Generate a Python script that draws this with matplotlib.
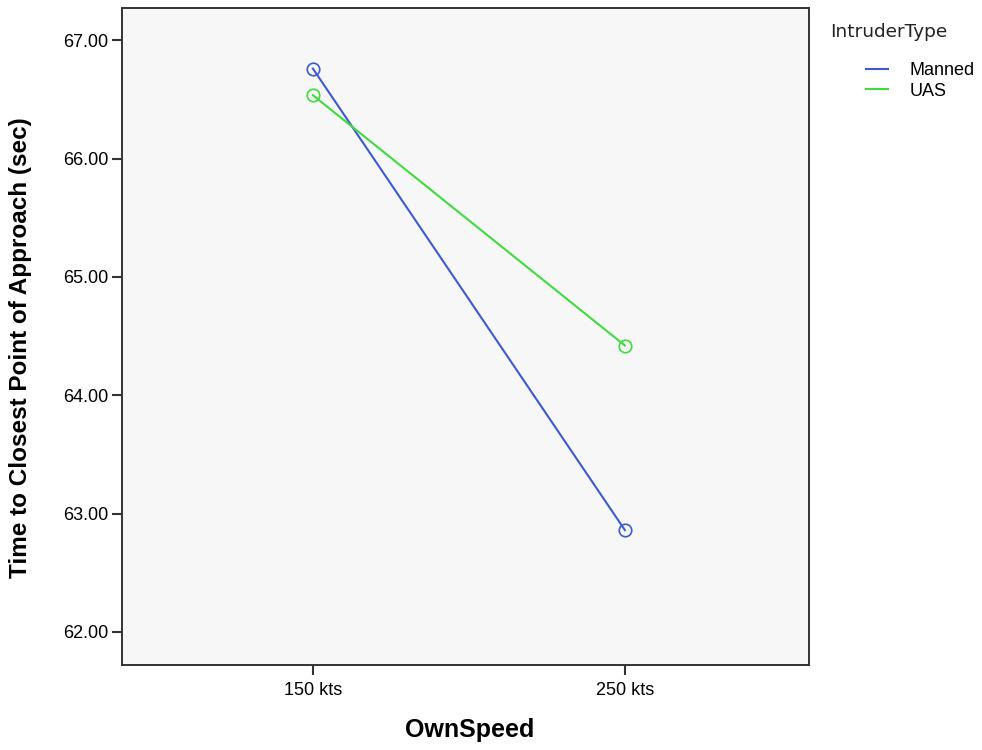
import matplotlib.pyplot as plt

speeds = ['150 kts', '250 kts']
manned = [66.76, 62.86]
uas = [66.535, 64.42]
yticks = [62.0, 63.0, 64.0, 65.0, 66.0, 67.0]

fig = plt.figure(figsize=(9.82, 7.5), dpi=100)
ax = fig.add_axes([0.1242, 0.1133, 0.6996, 0.8757])
ax.set_facecolor('#f7f7f7')

x = list(range(len(speeds)))
ax.plot(x, manned, color='#3c5ad6', lw=1.5, marker='o', ms=9, mfc='none', mew=1.2, label='Manned')
ax.plot(x, uas, color='#3fdc3f', lw=1.5, marker='o', ms=9, mfc='none', mew=1.2, label='UAS')

ax.set_xlim(-0.612, 1.59)
ax.set_ylim(61.72, 67.27)
ax.set_xticks(x)
ax.set_xticklabels(speeds, fontsize=13, family='Liberation Sans')
ax.set_yticks(yticks)
ax.set_yticklabels(['%.2f' % v for v in yticks], fontsize=13, family='Liberation Sans')
ax.tick_params(axis='both', length=7.5, width=1.5, color='#333333')
ax.tick_params(axis='x', pad=5)
ax.tick_params(axis='y', pad=2.5)
for s in ax.spines.values():
    s.set_linewidth(1.4)
    s.set_color('#333333')

ax.set_xlabel('OwnSpeed', fontsize=18, fontweight='bold', family='Liberation Sans')
ax.set_ylabel('Time to Closest Point of Approach (sec)', fontsize=17.5, fontweight='bold',
              family='Liberation Sans')
ax.xaxis.label.set_va('center')
ax.yaxis.label.set_va('center')
ax.xaxis.set_label_coords(0.506, -0.099)
ax.yaxis.set_label_coords(-0.147, 0.484)

# legend: title drawn separately so the entries sit indented like the original
fig.text(830 / 982, 1 - 32 / 750, 'IntruderType', fontsize=13.3, family='DejaVu Sans',
         color='#222222', ha='left', va='center')
leg = fig.legend(loc='upper left', bbox_to_anchor=(866 / 982, 1 - 62 / 750), frameon=False,
                 handlelength=1.2, handletextpad=1.2, borderpad=0, borderaxespad=0,
                 labelspacing=0.2, prop={'family': 'Liberation Sans', 'size': 13})
for h in leg.legend_handles:
    h.set_marker('')

fig.savefig('out.png', dpi=100)
